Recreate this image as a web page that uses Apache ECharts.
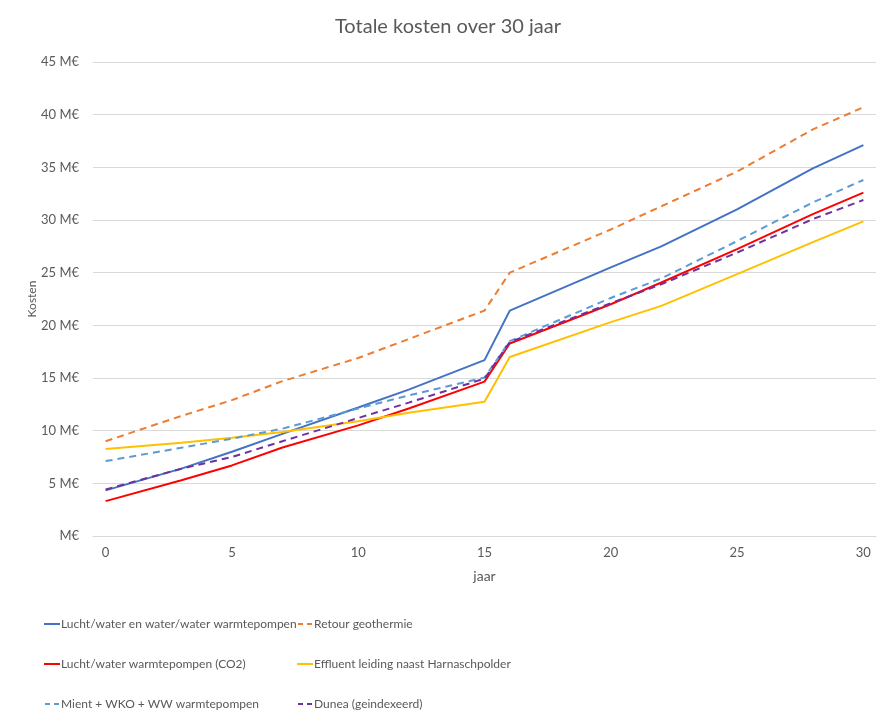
<!DOCTYPE html>
<html>
<head>
<meta charset="utf-8">
<script src="https://cdn.jsdelivr.net/npm/echarts@6/dist/echarts.min.js"></script>
<style>
  html, body { margin: 0; padding: 0; background: #fff; }
  #chart { width: 877px; height: 724px; }
</style>
</head>
<body>
<div id="chart"></div>
<script>
var FONT = 'Lato, "Noto Sans", sans-serif';

// jaren 0..30 (categorie-as)
var jaren = [];
for (var j = 0; j <= 30; j++) jaren.push(String(j));

var leesJaren = [0, 3, 5, 7, 10, 12, 15, 16, 20, 22, 25, 28, 30];

var luchtWaterEnWaterWater = [4.33, 6.4, 8.0, 9.7, 12.2, 13.9, 16.7, 21.4, 25.5, 27.5, 31.0, 34.9, 37.1];
var retourGeothermie      = [9.0, 11.4, 12.9, 14.7, 16.9, 18.7, 21.4, 25.0, 29.1, 31.3, 34.6, 38.6, 40.7];
var luchtWaterCO2         = [3.31, 5.3, 6.7, 8.4, 10.5, 12.1, 14.66, 18.27, 22.0, 24.07, 27.23, 30.56, 32.6];
var effluentLeiding       = [8.25, 8.86, 9.33, 9.87, 10.9, 11.7, 12.75, 17.0, 20.3, 21.85, 24.86, 27.9, 29.87];
var mientWkoWw            = [7.11, 8.38, 9.24, 10.19, 12.1, 13.35, 15.04, 18.5, 22.6, 24.45, 28.0, 31.67, 33.8];
var duneaGeindexeerd      = [4.42, 6.39, 7.5, 9.0, 11.2, 12.66, 14.94, 18.42, 22.1, 23.9, 26.9, 30.09, 31.9];

var ICON_LIJN = 'path://M0,0h16v2h-16z';
var ICON_STREEP = 'path://M0,0h5v2h-5z M9,0h5v2h-5z';

function punten(waarden) {
    var d = [];
    for (var i = 0; i < leesJaren.length; i++) {
        d.push([String(leesJaren[i]), waarden[i]]);
    }
    return d;
}

function lijn(naam, waarden, kleur, gestreept) {
    return {
        name: naam,
        type: 'line',
        data: punten(waarden),
        showSymbol: false,
        symbol: 'none',
        lineStyle: { color: kleur, width: 2, type: gestreept ? [7, 5] : 'solid' },
        itemStyle: { color: kleur },
        emphasis: { disabled: true }
    };
}

function legendItem(naam, gestreept) {
    return { name: naam, icon: gestreept ? ICON_STREEP : ICON_LIJN };
}

var legendBasis = {
    orient: 'vertical',
    top: 618,
    padding: 0,
    itemGap: 28,
    itemWidth: 16,
    itemHeight: 2,
    textStyle: { fontFamily: FONT, fontSize: 12, color: '#595959', padding: [0, 0, 0, -4] }
};

var mychart = echarts.init(document.getElementById('chart'));
var option = {
    animation: false,
    textStyle: { fontFamily: FONT },
    title: {
        text: 'Totale kosten over 30 jaar',
        left: 330,
        top: 12,
        textStyle: { fontFamily: FONT, fontSize: 20, fontWeight: 'normal', color: '#595959' }
    },
    legend: [
        Object.assign({}, legendBasis, {
            left: 44,
            data: [
                legendItem('Lucht/water en water/water warmtepompen', false),
                legendItem('Lucht/water warmtepompen (CO2)', false),
                legendItem('Mient + WKO + WW warmtepompen', true)
            ]
        }),
        Object.assign({}, legendBasis, {
            left: 297,
            data: [
                legendItem('Retour geothermie', true),
                legendItem('Effluent leiding naast Harnaschpolder', false),
                legendItem('Dunea (geindexeerd)', true)
            ]
        })
    ],
    grid: { left: 93, right: 1, top: 62, bottom: 188 },
    xAxis: {
        type: 'category',
        data: jaren,
        boundaryGap: true,
        name: 'jaar',
        nameLocation: 'middle',
        nameGap: 33,
        nameTextStyle: { fontFamily: FONT, fontSize: 14, color: '#595959' },
        axisLine: { lineStyle: { color: '#d9d9d9' } },
        axisTick: { show: false },
        axisLabel: { interval: 4, margin: 10, fontFamily: FONT, fontSize: 13, color: '#595959' },
        splitLine: { show: false }
    },
    yAxis: {
        type: 'value',
        min: 0,
        max: 45,
        interval: 5,
        name: 'Kosten',
        nameLocation: 'middle',
        nameGap: 55,
        nameMoveOverlap: false,
        nameTextStyle: { fontFamily: FONT, fontSize: 12, color: '#595959' },
        axisLine: { show: false },
        axisTick: { show: false },
        axisLabel: {
            margin: 14,
            fontFamily: FONT,
            fontSize: 13,
            color: '#595959',
            formatter: function (v) { return v === 0 ? 'M€' : v + ' M€'; }
        },
        splitLine: { lineStyle: { color: '#d9d9d9' } }
    },
    series: [
        lijn('Lucht/water en water/water warmtepompen', luchtWaterEnWaterWater, '#4472C4', false),
        lijn('Retour geothermie', retourGeothermie, '#ED7D31', true),
        lijn('Lucht/water warmtepompen (CO2)', luchtWaterCO2, '#FF0000', false),
        lijn('Effluent leiding naast Harnaschpolder', effluentLeiding, '#FFC000', false),
        lijn('Mient + WKO + WW warmtepompen', mientWkoWw, '#5B9BD5', true),
        lijn('Dunea (geindexeerd)', duneaGeindexeerd, '#7030A0', true)
    ]
};
mychart.setOption(option);
</script>
</body>
</html>
